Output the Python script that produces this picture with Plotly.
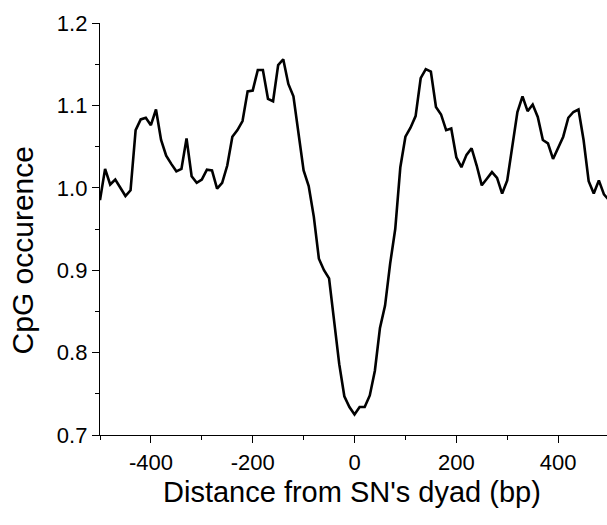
import plotly.graph_objects as go

positions = list(range(-500, 501, 10))
cpg_occurrence = [
    0.985, 1.023, 1.004, 1.010, 1.000, 0.990, 0.997, 1.070, 1.083, 1.085,
    1.076, 1.095, 1.058, 1.039, 1.029, 1.020, 1.023, 1.060, 1.014, 1.006,
    1.010, 1.022, 1.021, 0.999, 1.006, 1.027, 1.062, 1.070, 1.081, 1.117,
    1.118, 1.143, 1.143, 1.108, 1.105, 1.149, 1.156, 1.126, 1.111, 1.068,
    1.021, 1.002, 0.965, 0.914, 0.900, 0.890, 0.836, 0.786, 0.747, 0.734,
    0.725, 0.734, 0.734, 0.748, 0.778, 0.830, 0.857, 0.908, 0.950, 1.025,
    1.062, 1.073, 1.087, 1.133, 1.144, 1.141, 1.098, 1.089, 1.070, 1.072,
    1.037, 1.025, 1.040, 1.048, 1.027, 1.003, 1.011, 1.019, 1.012, 0.993,
    1.009, 1.050, 1.092, 1.111, 1.093, 1.101, 1.086, 1.058, 1.054, 1.035,
    1.048, 1.062, 1.085, 1.092, 1.095, 1.058, 1.008, 0.993, 1.009, 0.992,
    0.985,
]
x_tick_vals = [-400, -200, 0, 200, 400]
x_tick_text = ["-400", "-200", "0", "200", "400"]
y_tick_vals = [0.7, 0.8, 0.9, 1.0, 1.1, 1.2]
y_tick_text = ["0.7", "0.8", "0.9", "1.0", "1.1", "1.2"]
x_title = "Distance from SN's dyad (bp)"
y_title = "CpG occurence"

fig = go.Figure(go.Scatter(
    x=positions, y=cpg_occurrence, mode="lines",
    line=dict(color="black", width=2.6), showlegend=False,
))

font_family = "Liberation Sans, Arial, sans-serif"
fig.update_layout(
    width=607, height=525,
    margin=dict(l=100, r=0, t=23, b=90),
    paper_bgcolor="white", plot_bgcolor="white",
    font=dict(family=font_family, color="black"),
)
fig.update_xaxes(
    range=[-500, 496], showgrid=False, zeroline=False,
    showline=True, linecolor="black", linewidth=1.3,
    ticks="outside", ticklen=7, tickwidth=1.3, tickcolor="black",
    tickvals=x_tick_vals, ticktext=x_tick_text,
    tickfont=dict(size=22),
    minor=dict(ticks="outside", ticklen=4, tickwidth=1.3, tickcolor="black", dtick=100, tick0=-500),
)
fig.update_yaxes(
    range=[0.7, 1.2], showgrid=False, zeroline=False,
    showline=True, linecolor="black", linewidth=1.3,
    ticks="outside", ticklen=7, tickwidth=1.3, tickcolor="black",
    tickvals=y_tick_vals, ticktext=y_tick_text,
    tickfont=dict(size=22),
    minor=dict(ticks="outside", ticklen=4, tickwidth=1.3, tickcolor="black", dtick=0.05, tick0=0.7),
)
fig.add_annotation(
    text=x_title, xref="paper", yref="paper", x=0.497, y=-0.138,
    xanchor="center", yanchor="middle", showarrow=False,
    font=dict(size=29, family=font_family, color="black"),
)
fig.add_annotation(
    text=y_title, xref="paper", yref="paper", x=-0.153, y=0.449,
    xanchor="center", yanchor="middle", textangle=-90, showarrow=False,
    font=dict(size=30, family=font_family, color="black"),
)

fig.write_html("out.html")
